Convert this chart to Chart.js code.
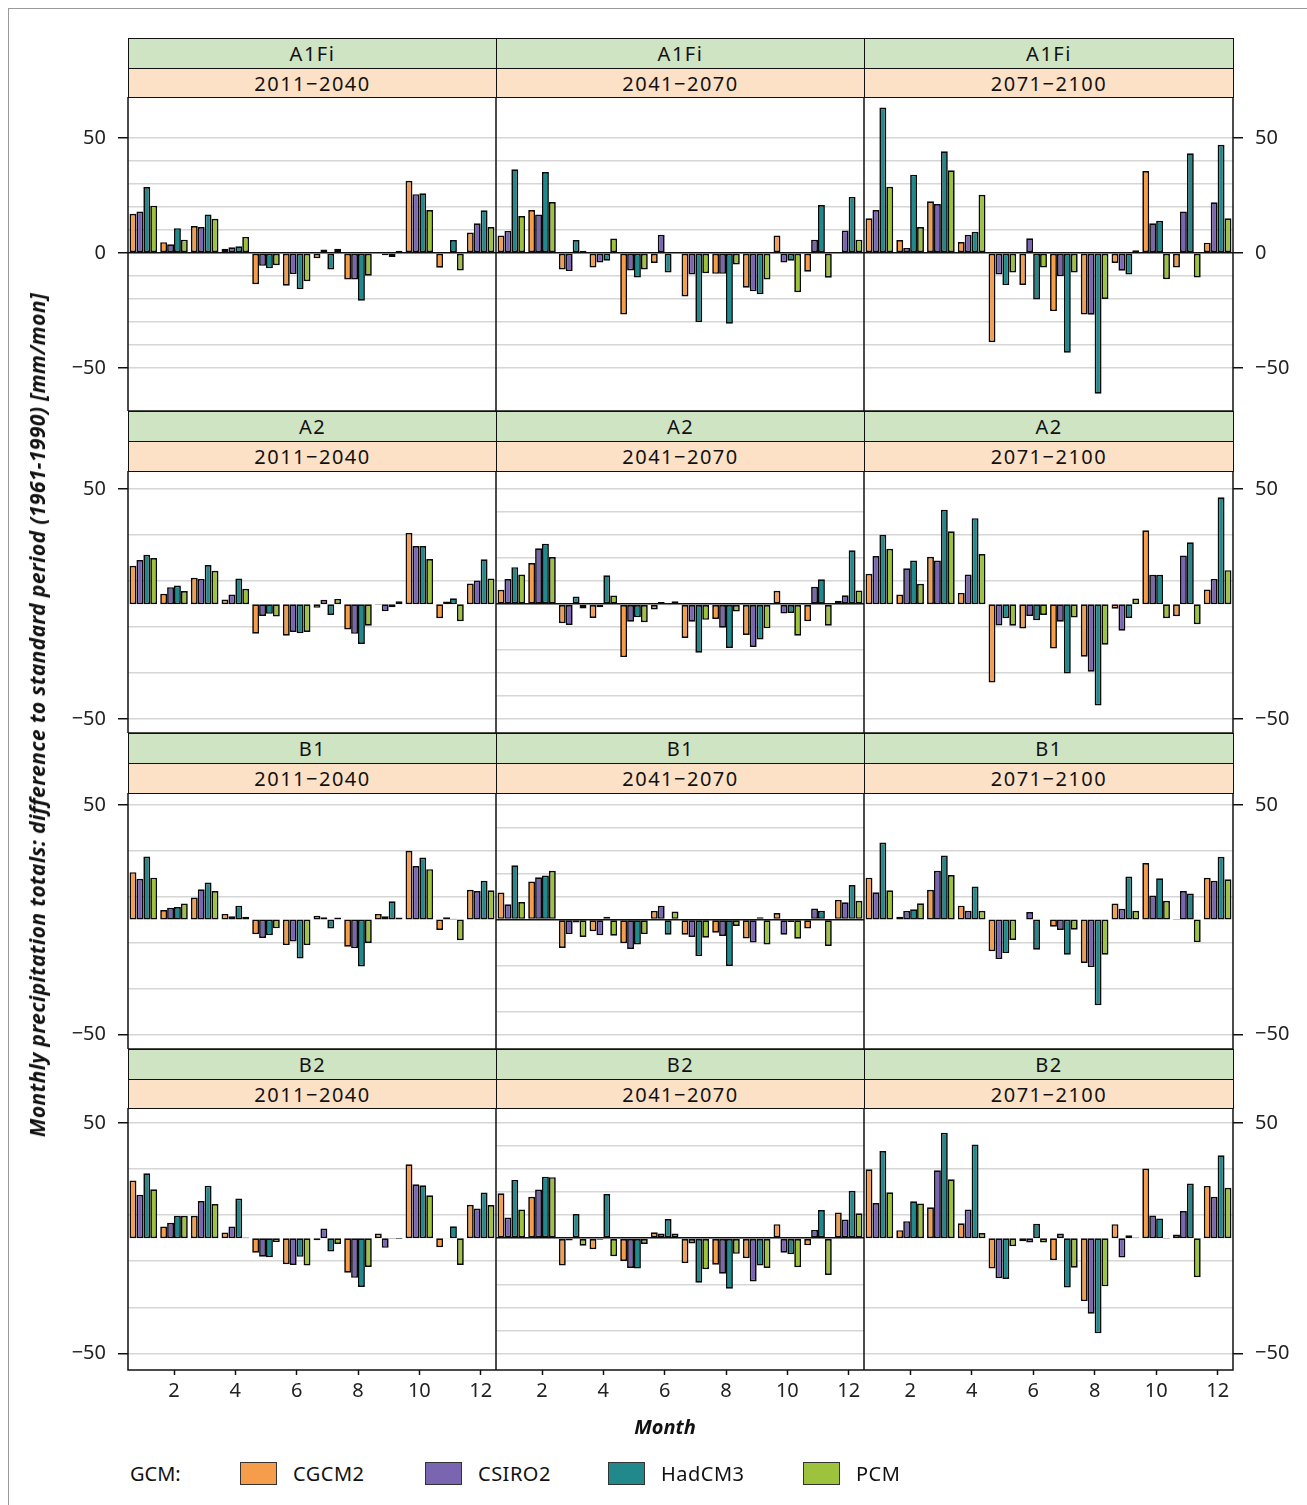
<!DOCTYPE html>
<html>
<head>
<meta charset="utf-8">
<script src="https://cdn.jsdelivr.net/npm/chart.js@4.4.1/dist/chart.umd.min.js"></script>
<style>
  body { margin: 0; background: #fff; font-family: "Noto Sans", sans-serif; color: #111; }
  #page { position: relative; width: 1307px; height: 1505px; overflow: hidden; }
  .frame { position: absolute; left: 8px; top: 8px; width: 1320px; height: 1520px; border: 1px solid #9a9a9a; }
  .strip { position: absolute; box-sizing: border-box; border: 1.5px solid #111; text-align: center;
           font-size: 20px; letter-spacing: 1.5px; display: flex; align-items: center; justify-content: center; }
  .green { background: #cfe4c3; }
  .peach { background: #fde1c6; }
  .panel { position: absolute; }
  .txt { position: absolute; white-space: nowrap; }
  .sw { position: absolute; width: 37px; height: 23px; box-sizing: border-box; border: 1px solid #333; }
</style>
</head>
<body>
<div id="page">
  <div class="frame"></div>
</div>
<script>
// months and models
const months = [1, 2, 3, 4, 5, 6, 7, 8, 9, 10, 11, 12];
const gcms = ['CGCM2', 'CSIRO2', 'HadCM3', 'PCM'];
const colors = ['#f59d4b', '#7a65b0', '#21898b', '#9dc23c'];
const scenarios = ['A1Fi', 'A2', 'B1', 'B2'];
const periods = ['2011−2040', '2041−2070', '2071−2100'];
const gridVals = [-50, -40, -30, -20, -10, 0, 10, 20, 30, 40, 50];
const rowMin = [-68.8, -56.0, -56.4, -57.2];
const rowMax = [67.9, 57.9, 55.2, 56.5];

// values per panel, rows = CGCM2, CSIRO2, HadCM3, PCM
const a1fi_2011 = [
  [17.1, 4.7, 11.7, 1.8, -13.6, -14.3, -2.3, -11.5, -0.3, 31.4, -6.4, 8.9],
  [18.0, 3.8, 11.3, 2.5, -5.6, -9.2, 1.5, -11.5, -1.0, 25.6, -0.3, 12.9],
  [28.7, 10.8, 16.8, 2.9, -6.7, -15.8, -7.2, -20.8, -1.8, 26.0, 5.6, 18.6],
  [20.6, 5.8, 14.9, 7.0, -5.3, -12.3, 1.8, -9.9, 1.0, 18.7, -7.6, 11.3]
];
const a1fi_2041 = [
  [7.6, 18.7, -7.2, -6.3, -26.8, -4.4, -18.9, -9.1, -15.1, 7.6, -8.2, 0.3],
  [9.6, 16.8, -7.9, -4.1, -7.6, 7.9, -9.4, -9.1, -16.7, -4.1, 5.7, 9.8],
  [36.4, 35.2, 5.6, -3.4, -10.7, -8.5, -30.1, -30.8, -18.0, -3.4, 20.9, 24.4],
  [16.1, 22.2, 1.0, 6.3, -7.2, -0.3, -8.8, -5.0, -11.5, -17.1, -10.8, 5.8]
];
const a1fi_2071 = [
  [15.1, 5.6, 22.5, 4.8, -38.9, -13.9, -25.3, -26.8, -4.4, 35.7, -6.3, 4.5],
  [18.7, 2.2, 21.3, 7.9, -9.4, 6.4, -10.1, -26.9, -7.7, 12.9, 18.1, 22.1],
  [63.3, 34.1, 44.3, 9.2, -14.0, -20.3, -43.4, -61.3, -9.4, 14.0, 43.4, 47.1],
  [28.8, 11.3, 36.0, 25.3, -8.5, -6.3, -8.5, -20.0, 1.2, -11.4, -10.7, 15.1]
];
const a2_2011 = [
  [16.7, 4.5, 11.5, 2.0, -12.8, -13.7, -1.6, -11.0, -0.2, 31.0, -6.1, 9.0],
  [19.2, 7.4, 11.0, 4.2, -5.1, -12.1, 1.9, -12.9, -3.1, 25.3, 1.2, 10.3],
  [21.5, 8.1, 17.0, 11.2, -4.2, -12.6, -4.7, -17.3, -1.3, 25.3, 2.6, 19.5],
  [20.1, 5.7, 14.5, 6.7, -5.4, -12.1, 2.3, -9.4, 1.3, 19.6, -7.4, 11.2]
];
const a2_2041 = [
  [6.3, 17.9, -8.3, -6.0, -23.0, -2.3, -14.7, -6.4, -13.4, 5.8, -7.4, 1.5],
  [10.9, 24.3, -9.0, -1.3, -7.6, 0.9, -7.6, -10.2, -18.6, -4.1, 7.6, 3.9],
  [16.1, 26.3, 3.3, 12.6, -5.7, -0.5, -21.1, -19.0, -15.4, -3.8, 10.8, 23.4],
  [12.9, 20.5, -1.9, 3.8, -7.8, 1.3, -6.8, -3.2, -10.5, -13.7, -9.4, 6.0]
];
const a2_2071 = [
  [13.2, 4.2, 20.6, 4.9, -34.0, -10.6, -19.3, -22.8, -2.0, 32.1, -5.2, 6.4],
  [20.9, 15.6, 19.0, 12.9, -9.3, -5.1, -7.6, -29.4, -11.5, 12.8, 21.2, 11.0],
  [30.2, 19.0, 41.0, 37.4, -6.1, -7.0, -30.1, -44.0, -6.0, 12.8, 26.9, 46.5],
  [24.1, 8.9, 31.7, 21.8, -9.4, -4.7, -5.8, -17.6, 2.5, -6.1, -8.7, 14.8]
];
const b1_2011 = [
  [20.7, 4.2, 9.6, 2.5, -6.4, -11.1, 1.7, -11.8, 2.5, 30.0, -4.5, 13.0],
  [17.8, 5.2, 13.2, 1.5, -8.0, -9.5, 1.0, -12.5, 1.5, 23.4, 1.0, 12.5],
  [27.5, 5.5, 16.2, 6.1, -6.8, -17.0, -3.9, -20.4, 8.0, 27.1, 0.4, 16.9],
  [18.3, 7.0, 12.5, 1.3, -3.8, -11.1, 0.9, -10.2, 0.9, 22.0, -9.0, 12.8]
];
const b1_2041 = [
  [11.8, 16.6, -12.4, -5.1, -10.3, 3.8, -6.6, -5.7, -8.2, 2.9, -3.9, 8.6],
  [6.7, 18.5, -6.3, -6.8, -12.8, 6.0, -7.6, -7.1, -10.0, -6.6, 4.8, 7.6],
  [23.7, 19.2, -1.2, 1.2, -10.8, -6.6, -15.9, -20.2, 1.0, -1.0, 3.9, 15.1],
  [7.7, 21.3, -7.6, -7.0, -6.3, 3.5, -7.9, -2.8, -10.8, -8.3, -11.5, 8.2]
];
const b1_2071 = [
  [18.3, 1.2, 13.0, 6.1, -13.8, 0.1, -3.1, -18.9, 7.0, 24.7, 0.3, 18.2],
  [11.9, 3.8, 21.3, 3.9, -17.2, 3.3, -4.5, -20.7, 4.7, 10.5, 12.5, 16.9],
  [33.6, 4.5, 27.9, 14.4, -14.6, -13.1, -15.3, -37.3, 18.8, 18.0, 11.4, 27.4],
  [12.8, 7.1, 19.4, 3.9, -8.9, 0.1, -4.4, -15.3, 3.9, 8.2, -9.8, 17.6]
];
const b2_2011 = [
  [25.0, 5.1, 9.7, 2.5, -6.3, -11.3, -0.9, -15.0, 2.0, 32.1, -3.9, 14.5],
  [18.8, 6.7, 16.1, 5.1, -8.0, -11.6, 4.2, -17.2, -4.2, 23.4, 0.1, 12.9],
  [28.2, 9.7, 22.8, 17.2, -8.3, -8.1, -5.8, -21.2, -0.2, 23.0, 5.2, 19.8],
  [21.2, 9.7, 14.8, 0.3, -1.7, -11.8, -2.5, -12.5, -0.3, 18.6, -11.6, 14.4]
];
const b2_2041 = [
  [19.5, 18.0, -11.8, -4.8, -9.9, 2.6, -10.8, -11.5, -8.7, 6.1, -3.1, 11.2],
  [9.0, 21.1, -1.0, -0.7, -12.9, 2.0, -2.3, -15.4, -18.8, -6.3, 3.6, 8.1],
  [25.3, 26.7, 10.5, 19.2, -13.2, 8.3, -19.3, -21.9, -11.9, -7.0, 12.2, 20.6],
  [12.5, 26.5, -3.3, -7.8, -2.5, 2.0, -13.5, -6.8, -12.9, -12.6, -16.0, 10.8]
];
const b2_2071 = [
  [29.9, 3.5, 13.4, 6.5, -13.2, -1.3, -9.6, -27.3, 6.1, 30.2, 1.6, 22.7],
  [15.3, 7.4, 29.5, 12.4, -17.4, -1.9, 2.0, -32.8, -8.4, 9.9, 11.8, 18.0],
  [37.8, 16.0, 45.8, 40.7, -17.7, 6.3, -21.4, -41.3, 1.3, 8.6, 23.7, 36.0],
  [19.9, 15.1, 25.6, 2.2, -3.5, -1.9, -12.8, -20.9, 0.3, -0.2, -16.9, 21.9]
];

const panels = [
  [a1fi_2011, a1fi_2041, a1fi_2071],
  [a2_2011, a2_2041, a2_2071],
  [b1_2011, b1_2041, b1_2071],
  [b2_2011, b2_2041, b2_2071]
];

// layout (px)
const colEdges = [128, 496, 864, 1233];
const stripTop = [38, 411, 733, 1049];
const plotTop = [97, 471, 793, 1108];
const plotBottom = [411, 733, 1049, 1370];
const FONT = '"Noto Sans", sans-serif';

Chart.defaults.font.family = FONT;
Chart.defaults.color = '#222';

const page = document.getElementById('page');

function addDiv(cls, css, text) {
  const d = document.createElement('div');
  d.className = cls;
  Object.assign(d.style, css);
  if (text !== undefined) d.textContent = text;
  page.appendChild(d);
  return d;
}

const panelBorder = {
  id: 'panelBorder',
  afterDraw(chart) {
    const a = chart.chartArea, ctx = chart.ctx;
    ctx.save();
    ctx.strokeStyle = '#111';
    ctx.lineWidth = 1.5;
    ctx.strokeRect(a.left, a.top, a.right - a.left, a.bottom - a.top);
    ctx.restore();
  }
};

function fmt(v) {
  return v < 0 ? '−' + (-v) : String(v);
}

function makePanel(r, c) {
  const series = panels[r][c];
  const x0 = colEdges[c], x1 = colEdges[c + 1];
  const y0 = plotTop[r], y1 = plotBottom[r];
  const padL = c === 0 ? x0 : 0;
  const padR = c === 2 ? 1307 - x1 : 0;
  const padB = r === 3 ? 45 : 0;
  const w = x1 - x0 + padL + padR, h = y1 - y0 + padB;

  const box = addDiv('panel', { left: (x0 - padL) + 'px', top: y0 + 'px', width: w + 'px', height: h + 'px' });
  const cv = document.createElement('canvas');
  cv.width = w; cv.height = h;
  cv.style.width = w + 'px'; cv.style.height = h + 'px';
  box.appendChild(cv);

  new Chart(cv, {
    type: 'bar',
    data: {
      labels: months,
      datasets: gcms.map((g, i) => ({
        label: g,
        data: series[i],
        backgroundColor: colors[i],
        borderColor: '#0a0a0a',
        borderWidth: 1.7,
        borderSkipped: false,
        categoryPercentage: 0.9,
        barPercentage: 1.0
      }))
    },
    options: {
      responsive: false,
      animation: false,
      layout: { padding: 0 },
      plugins: { legend: { display: false }, tooltip: { enabled: false } },
      scales: {
        x: {
          display: r === 3,
          offset: true,
          grid: {
            offset: false,
            drawOnChartArea: false,
            tickLength: 5,
            tickWidth: 1.5,
            tickColor: ctx => (ctx.index % 2 === 1 ? '#111' : 'rgba(0,0,0,0)')
          },
          border: { display: false },
          ticks: {
            autoSkip: false,
            maxRotation: 0,
            padding: 4,
            color: '#222',
            font: { size: 20 },
            callback: (v, i) => (i % 2 === 1 ? String(months[i]) : '')
          },
          afterFit: s => { s.height = padB; s.paddingLeft = 0; s.paddingRight = 0; }
        },
        y: {
          position: c === 2 ? 'right' : 'left',
          min: rowMin[r],
          max: rowMax[r],
          afterBuildTicks: s => { s.ticks = gridVals.map(v => ({ value: v })); },
          grid: {
            color: ctx => (ctx.tick && ctx.tick.value === 0 ? '#111' : '#d6d6d6'),
            lineWidth: 1.5,
            drawTicks: c !== 1,
            tickLength: 10,
            tickWidth: 1.5,
            tickColor: ctx => (ctx.tick && ctx.tick.value % 50 === 0 ? '#111' : 'rgba(0,0,0,0)')
          },
          border: { display: false },
          ticks: {
            display: c !== 1,
            padding: 12,
            color: '#222',
            font: { size: 20 },
            callback: v => (v % 50 === 0 ? fmt(v) : '')
          },
          afterFit: s => {
            s.width = c === 0 ? padL : (c === 2 ? padR : 0);
            s.paddingTop = 0; s.paddingBottom = 0;
          }
        }
      }
    },
    plugins: [panelBorder]
  });
}

// strips
for (let r = 0; r < 4; r++) {
  for (let c = 0; c < 3; c++) {
    const x0 = colEdges[c], x1 = colEdges[c + 1];
    const g0 = stripTop[r], mid = Math.round((stripTop[r] + plotTop[r]) / 2), p1 = plotTop[r];
    addDiv('strip green', { left: x0 + 'px', top: g0 + 'px', width: (x1 - x0 + 1) + 'px', height: (mid - g0 + 1) + 'px' }, scenarios[r]);
    addDiv('strip peach', { left: x0 + 'px', top: mid + 'px', width: (x1 - x0 + 1) + 'px', height: (p1 - mid + 1) + 'px' }, periods[c]);
  }
}

for (let r = 0; r < 4; r++) {
  for (let c = 0; c < 3; c++) makePanel(r, c);
}

// axis titles
addDiv('txt', {
  left: '37px', top: '715px', fontSize: '21px', fontWeight: 'bold', fontStyle: 'italic', letterSpacing: '0.4px',
  transform: 'translate(-50%, -50%) rotate(-90deg)'
}, 'Monthly precipitation totals: difference to standard period (1961−1990) [mm/mon]');
addDiv('txt', {
  left: '665px', top: '1426px', fontSize: '20px', fontWeight: 'bold', fontStyle: 'italic',
  transform: 'translate(-50%, -50%)'
}, 'Month');

// legend
addDiv('txt', { left: '130px', top: '1473px', fontSize: '20px', transform: 'translateY(-50%)' }, 'GCM:');
const swX = [240, 425, 608, 803];
gcms.forEach((g, i) => {
  addDiv('sw', { left: swX[i] + 'px', top: '1462px', background: colors[i] });
  addDiv('txt', { left: (swX[i] + 53) + 'px', top: '1473px', fontSize: '20px', letterSpacing: '0.5px', transform: 'translateY(-50%)' }, g);
});
</script>
</body>
</html>
